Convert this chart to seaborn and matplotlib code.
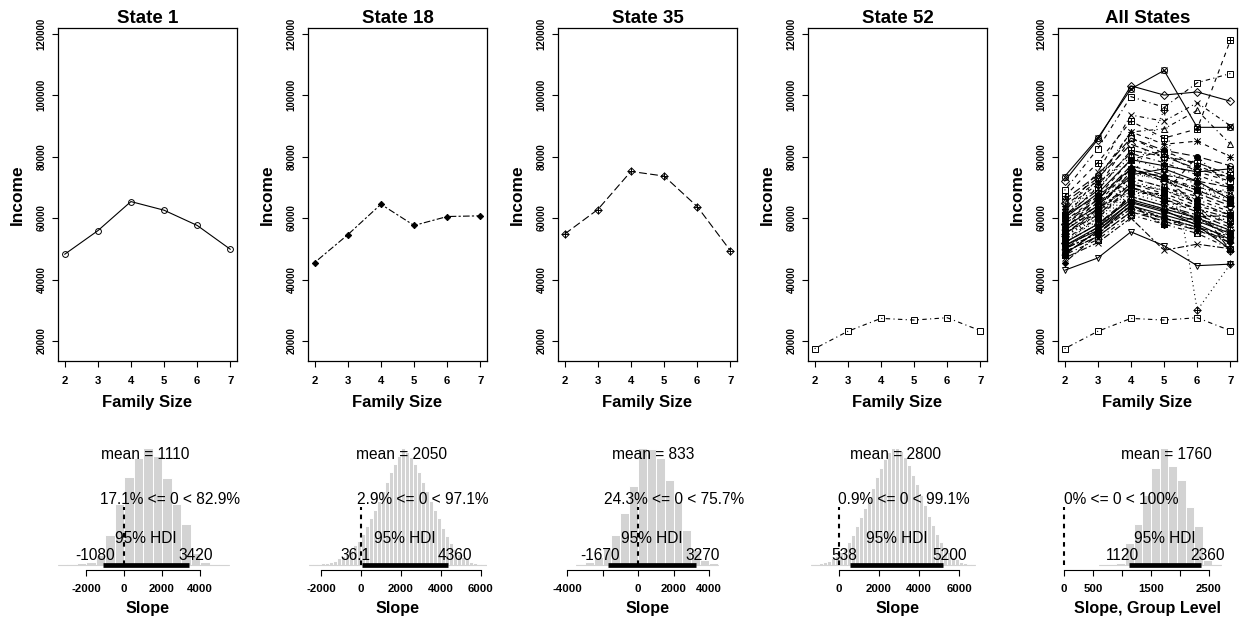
import numpy as np
import pandas as pd
import matplotlib
matplotlib.use("Agg")
import matplotlib.pyplot as plt
from matplotlib.path import Path
from matplotlib import transforms
import seaborn as sns

sns.set_theme(style="white")
plt.rcParams['font.family'] = ['Liberation Sans', 'DejaVu Sans']
plt.rcParams['text.color'] = 'black'
plt.rcParams['axes.labelcolor'] = 'black'
plt.rcParams['xtick.color'] = 'black'
plt.rcParams['ytick.color'] = 'black'
plt.rcParams['axes.titlecolor'] = 'black'

# ---------------- data ----------------
family_size = [2, 3, 4, 5, 6, 7]

state_income = [
    [48200, 55860, 65350, 62540, 57580, 49820],   # 1
    [56000, 63000, 70000, 66000, 62000, 58000],   # 2
    [52000, 58000, 66000, 63000, 60000, 56000],   # 3
    [62000, 75000, 93500, 91500, 97500, 90000],   # 4
    [58000, 66000, 76000, 72000, 68000, 64000],   # 5
    [50000, 55000, 64000, 60000, 57000, 52000],   # 6
    [60000, 68000, 79000, 77000, 75000, 76000],   # 7
    [64000, 72000, 88000, 84000, 85000, 80000],   # 8
    [54000, 61000, 72000, 95000, 30000, 45000],   # 9
    [57000, 64000, 73000, 70000, 66000, 62000],   # 10
    [49000, 54000, 62000, 59000, 56000, 53000],   # 11
    [61000, 69000, 82000, 80000, 78000, 74000],   # 12
    [73500, 86000, 102000, 108000, 89500, 89500], # 13
    [55000, 62000, 71000, 68000, 64000, 61000],   # 14
    [52000, 60000, 74000, 73000, 69000, 66000],   # 15
    [48000, 56000, 68000, 68000, 80000, 70000],   # 16
    [59000, 66000, 77000, 74000, 72000, 70000],   # 17
    [45510, 54565, 64480, 57580, 60490, 60710],   # 18
    [51000, 57000, 65000, 62000, 59000, 55000],   # 19
    [53000, 60000, 70000, 66000, 63000, 58000],   # 20
    [56000, 64000, 75000, 72000, 70000, 67000],   # 21
    [69000, 82500, 99500, 96000, 104000, 107000], # 22
    [65000, 73000, 84000, 80000, 76000, 73000],   # 23
    [50000, 57000, 67000, 64000, 60000, 54000],   # 24
    [43000, 47000, 55500, 51000, 44500, 45000],   # 25
    [60000, 70000, 86000, 81000, 75000, 72000],   # 26
    [55000, 61000, 69000, 67000, 58000, 60000],   # 27
    [60000, 73000, 88000, 89000, 95000, 84000],   # 28
    [52000, 58000, 67000, 64000, 61000, 57000],   # 29
    [47000, 52000, 60000, 49500, 51500, 50000],   # 30
    [72000, 85500, 103000, 100000, 101000, 98000],# 31
    [58000, 65000, 73000, 70000, 67000, 63000],   # 32
    [54000, 60000, 69000, 66000, 62000, 59000],   # 33
    [63000, 71000, 81000, 78000, 74000, 70000],   # 34
    [54780, 62760, 75150, 73650, 63730, 49390],   # 35
    [50000, 55000, 63000, 60000, 57000, 54000],   # 36
    [57000, 64000, 74000, 76000, 72000, 66000],   # 37
    [67000, 78000, 91500, 86000, 89000, 117800],  # 38
    [53000, 59000, 68000, 65000, 60000, 55000],   # 39
    [48000, 53000, 61000, 58000, 55000, 50000],   # 40
    [61000, 67000, 76000, 73000, 69000, 65000],   # 41
    [56000, 63000, 71000, 69000, 65000, 61000],   # 42
    [51000, 56000, 64000, 61000, 58000, 53000],   # 43
    [59000, 67000, 79000, 82000, 77000, 73000],   # 44
    [54000, 62000, 72000, 69000, 66000, 70000],   # 45
    [49000, 54000, 62000, 60000, 56000, 52000],   # 46
    [66000, 74000, 86000, 82000, 80000, 77000],   # 47
    [55000, 61000, 70000, 67000, 63000, 60000],   # 48
    [52000, 58000, 66000, 63000, 60000, 56000],   # 49
    [57000, 65000, 76000, 73000, 70000, 68000],   # 50
    [62000, 70000, 80000, 75000, 71000, 68000],   # 51
    [17500, 23140, 27350, 26810, 27570, 23350],   # 52
]
featured_states = [1, 18, 35, 52]
top_titles = ["State 1", "State 18", "State 35", "State 52", "All States"]
income_ticks = [20000, 40000, 60000, 80000, 100000, 120000]

# posterior slope histograms (bin start, bin width, bar heights)
slope_bin_start = [-3500, -2600, -3500, -1400, 600]
slope_bin_width = [500, 200, 500, 200, 150]
slope_counts = [
    [2, 4, 7, 10, 30, 90, 180, 260, 315, 345, 320, 255, 180, 120, 35, 10, 5, 2],
    [1, 1, 1, 2, 2, 3, 4, 6, 8, 10, 13, 17, 21, 27, 33, 40, 47, 55, 63, 71, 79, 86,
     93, 100, 96, 92, 86, 79, 71, 63, 55, 47, 40, 32, 25, 19, 14, 10, 7, 5, 3, 2, 1, 1, 1],
    [5, 10, 25, 50, 90, 155, 235, 350, 345, 320, 255, 190, 105, 45, 15, 7],
    [1, 1, 2, 3, 4, 6, 8, 11, 15, 20, 26, 33, 41, 49, 58, 66, 75, 83, 90, 96, 100, 100,
     97, 92, 85, 77, 69, 60, 51, 42, 34, 27, 20, 15, 11, 7, 5, 3, 2, 1, 1],
    [2, 4, 8, 65, 120, 205, 285, 345, 290, 250, 170, 115, 15, 5],
]
slope_mean = ["1110", "2050", "833", "2800", "1760"]
slope_mean_val = [1110, 2050, 833, 2800, 1760]
hdi_low = [-1080, 36.1, -1670, 538, 1120]
hdi_high = [3420, 4360, 3270, 5200, 2360]
hdi_low_lbl = ["-1080", "36.1", "-1670", "538", "1120"]
hdi_high_lbl = ["3420", "4360", "3270", "5200", "2360"]
pct_below = [17.1, 2.9, 24.3, 0.9, 0.0]
pct_text = ["17.1% <= 0 < 82.9%", "2.9% <= 0 < 97.1%", "24.3% <= 0 < 75.7%",
            "0.9% <= 0 < 99.1%", "0% <= 0 < 100%"]
slope_xlabels = ["Slope", "Slope", "Slope", "Slope", "Slope, Group Level"]
slope_ticks = [
    [-2000, 0, 2000, 4000],
    [-2000, 0, 2000, 4000, 6000],
    [-4000, -2000, 0, 2000, 4000],
    [0, 2000, 4000, 6000],
    [0, 500, 1000, 1500, 2000, 2500],
]
slope_ticklabels = [
    ["-2000", "0", "2000", "4000"],
    ["-2000", "0", "2000", "4000", "6000"],
    ["-4000", "", "0", "2000", "4000"],
    ["0", "2000", "4000", "6000"],
    ["0", "500", "", "1500", "", "2500"],
]
slope_xlim = [(-3474, 5947), (-2650, 6300), (-4507, 5577), (-1550, 7400), (-103, 2983)]

# ---------------- R-like markers ----------------
M, L, C = Path.MOVETO, Path.LINETO, Path.CLOSEPOLY
def _p(pts, closed=False):
    codes = [M] + [L] * (len(pts) - 1)
    if closed:
        pts = list(pts) + [pts[0]]
        codes = codes + [C]
    return Path(pts, codes)

square = _p([(-1, -1), (1, -1), (1, 1), (-1, 1)], True)
diamond = _p([(0, -1.3), (1.3, 0), (0, 1.3), (-1.3, 0)], True)
circle = Path.unit_circle()
plus = Path.make_compound_path(_p([(-1, 0), (1, 0)]), _p([(0, -1), (0, 1)]))
cross = Path.make_compound_path(_p([(-1, -1), (1, 1)]), _p([(-1, 1), (1, -1)]))
plus13 = Path.make_compound_path(_p([(-1.3, 0), (1.3, 0)]), _p([(0, -1.3), (0, 1.3)]))
tri_up = _p([(-1, -0.8), (1, -0.8), (0, 1)], True)
tri_dn = _p([(-1, 0.8), (1, 0.8), (0, -1)], True)

def pch_style(pch):
    table = {
        0: ('s', False, 3.8), 1: ('o', False, 4.2), 2: ('^', False, 4.4), 3: ('+', False, 5),
        4: ('x', False, 4.2), 5: ('D', False, 4.2), 6: ('v', False, 4.4),
        7: (Path.make_compound_path(square, cross), False, 4.2),
        8: (Path.make_compound_path(plus, cross), False, 4.6),
        9: (Path.make_compound_path(diamond, plus13), False, 5.2),
        10: (Path.make_compound_path(circle, plus), False, 4.4),
        11: (Path.make_compound_path(tri_up, tri_dn), False, 5.0),
        12: (Path.make_compound_path(square, plus), False, 4.2),
        13: (Path.make_compound_path(circle, cross), False, 4.4),
        14: (Path.make_compound_path(square, _p([(-1, -1), (0, 1), (1, -1)])), False, 4.2),
        15: ('s', True, 3.8), 16: ('o', True, 4.0), 17: ('^', True, 4.4),
        18: ('D', True, 3.2), 19: ('o', True, 4.2), 20: ('o', True, 2.8),
        21: ('o', False, 4.2), 22: ('s', False, 3.8), 23: ('D', False, 4.2),
        24: ('^', False, 4.4), 25: ('v', False, 4.4),
    }
    return table[pch]

lty_map = {1: '-', 2: (0, (4, 4)), 3: (0, (1, 3)), 4: (0, (1, 3, 4, 3)),
           5: (0, (7, 3)), 6: (0, (2, 2, 6, 2))}

def draw_state(ax, s):
    pch = s % 26
    lty = ((s - 1) % 6) + 1
    mk, filled, ms = pch_style(pch)
    df = pd.DataFrame({"size": family_size, "income": state_income[s - 1]})
    sns.lineplot(data=df, x="size", y="income", ax=ax, color="black", linewidth=0.8,
                 linestyle=lty_map[lty], marker=mk, markersize=ms,
                 markerfacecolor=("black" if filled else "none"),
                 markeredgecolor="black", markeredgewidth=0.7,
                 estimator=None, sort=False)

# ---------------- layout ----------------
W, H, DPI = 1239, 621, 100
fig = plt.figure(figsize=(W / DPI, H / DPI), dpi=DPI)
fig.patch.set_facecolor("white")
lefts = [58, 308, 558, 808, 1058]
pw = 179

def rect(l, top, bottom):
    return [l / W, (H - bottom) / H, pw / W, (bottom - top) / H]

for i in range(5):
    ax = fig.add_axes(rect(lefts[i], 28, 361))
    if i < 4:
        draw_state(ax, featured_states[i])
    else:
        for s in range(1, len(state_income) + 1):
            draw_state(ax, s)
    ax.set_xlim(1.8, 7.2)
    ax.set_ylim(13490, 121810)
    ax.set_xticks(family_size)
    ax.set_xticklabels([str(v) for v in family_size], fontsize=8.2, fontweight="bold")
    ax.set_yticks(income_ticks)
    ax.set_yticklabels([str(v) for v in income_ticks], fontsize=6.9, fontweight="bold",
                       rotation=90, va="center")
    ax.tick_params(axis="both", direction="out", length=4.2, width=0.8, color="black",
                   bottom=True, left=True, labelcolor="black")
    ax.tick_params(axis="x", pad=6.5)
    ax.tick_params(axis="y", pad=4.0)
    for sp in ax.spines.values():
        sp.set_visible(True)
        sp.set_color("black")
        sp.set_linewidth(0.9)
    ax.set_facecolor("white")
    ax.set_title(top_titles[i], fontsize=13.5, fontweight="bold", pad=3.8, color="black")
    ax.set_xlabel("Family Size", fontsize=12, fontweight="bold", color="black")
    ax.set_ylabel("Income", fontsize=12.5, fontweight="bold", color="black")
    ax.xaxis.set_label_coords(0.5, -41 / 333)
    ax.xaxis.label.set_va("center")
    ax.yaxis.set_label_coords(-41 / pw, 0.5)
    ax.yaxis.label.set_va("center")
    ax.grid(False)

# bottom histograms
pending = []
for i in range(5):
    ax = fig.add_axes(rect(lefts[i], 443, 570))
    counts = np.array(slope_counts[i], dtype=float)
    edges = slope_bin_start[i] + slope_bin_width[i] * np.arange(len(counts) + 1)
    centers = (edges[:-1] + edges[1:]) / 2
    hdf = pd.DataFrame({"slope": centers, "count": counts})
    sns.histplot(data=hdf, x="slope", weights="count", bins=list(edges), ax=ax,
                 color="#D3D3D3", edgecolor="white", linewidth=0.7, alpha=1.0)
    hmax = counts.max()
    ax.set_xlim(*slope_xlim[i])
    ax.set_ylim(-0.04 * hmax, 1.04 * hmax)
    ax.set_facecolor("white")
    for k in ["top", "right", "left"]:
        ax.spines[k].set_visible(False)
    ax.spines["bottom"].set_visible(True)
    ax.spines["bottom"].set_color("black")
    ax.spines["bottom"].set_linewidth(0.8)
    ax.spines["bottom"].set_bounds(slope_ticks[i][0], slope_ticks[i][-1])
    ax.set_yticks([])
    ax.set_ylabel("")
    ax.set_xticks(slope_ticks[i])
    ax.set_xticklabels(slope_ticklabels[i], fontsize=8.2, fontweight="bold")
    ax.tick_params(axis="x", direction="out", length=4.2, width=0.8, color="black",
                   bottom=True, pad=6.0, labelcolor="black")
    ax.set_xlabel(slope_xlabels[i], fontsize=11.6, fontweight="bold", color="black")
    ax.xaxis.set_label_coords(0.5, -39 / 127)
    ax.xaxis.label.set_va("center")
    ax.grid(False)
    ax.plot([edges[0], edges[-1]], [0, 0], color="#D3D3D3", lw=0.8, zorder=1)
    ax.plot([hdi_low[i], hdi_high[i]], [0, 0], color="black", lw=3.4,
            solid_capstyle="butt", zorder=5)
    ax.plot([0, 0], [0, 0.5 * hmax], color="black", lw=1.5,
            linestyle=(0, (2.2, 2.2)), zorder=6)
    tf = dict(fontsize=11.2, color="black", zorder=7)
    ax.text(slope_mean_val[i], 0.9 * hmax, "mean = " + slope_mean[i], ha="center",
            va="baseline", **tf)
    t = ax.text(0, 0.52 * hmax, pct_text[i], ha="left", va="baseline", **tf)
    pending.append((t, pct_below[i] / 100.0))
    ax.text((hdi_low[i] + hdi_high[i]) / 2, 0.19 * hmax, "95% HDI", ha="center",
            va="baseline", **tf)
    t = ax.text(hdi_low[i], 0.045 * hmax, hdi_low_lbl[i], ha="left", va="baseline", **tf)
    pending.append((t, 0.7))
    t = ax.text(hdi_high[i], 0.045 * hmax, hdi_high_lbl[i], ha="left", va="baseline", **tf)
    pending.append((t, 0.3))

fig.canvas.draw()
renderer = fig.canvas.get_renderer()
for t, frac in pending:
    w = t.get_window_extent(renderer).width
    t.set_transform(t.get_transform() +
                    transforms.ScaledTranslation(-frac * w / fig.dpi, 0, fig.dpi_scale_trans))

fig.savefig("out.png", dpi=DPI, facecolor="white")
